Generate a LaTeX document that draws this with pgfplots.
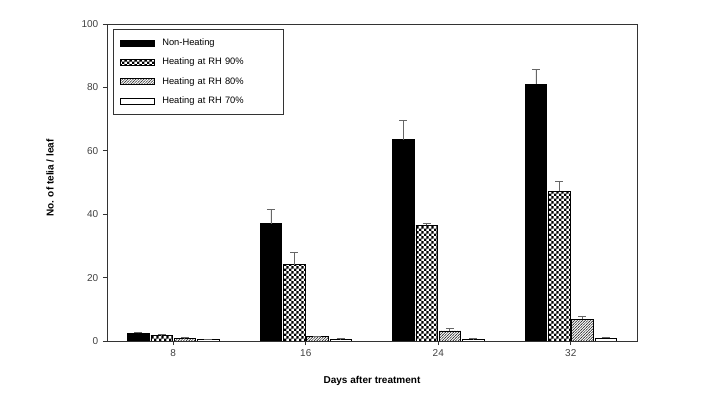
\documentclass[border=0pt]{standalone}
\usepackage{fontspec}
\setmainfont{Liberation Sans}
\usepackage{pgfplots}
\pgfplotsset{compat=1.18}
\usetikzlibrary{patterns}
\pgfdeclarepatternformonly{smallchecker}{\pgfqpoint{0pt}{0pt}}{\pgfqpoint{4pt}{4pt}}{\pgfqpoint{4pt}{4pt}}{%
  \pgfpathrectangle{\pgfqpoint{0pt}{0pt}}{\pgfqpoint{2pt}{2pt}}%
  \pgfpathrectangle{\pgfqpoint{2pt}{2pt}}{\pgfqpoint{2pt}{2pt}}%
  \pgfusepath{fill}}
\pgfdeclarepatternformonly{finehatch}{\pgfqpoint{-0.5pt}{-0.5pt}}{\pgfqpoint{2.5pt}{2.5pt}}{\pgfqpoint{2pt}{2pt}}{%
  \pgfsetlinewidth{0.35pt}%
  \pgfpathmoveto{\pgfqpoint{-0.5pt}{-0.5pt}}%
  \pgfpathlineto{\pgfqpoint{2.5pt}{2.5pt}}%
  \pgfusepath{stroke}}
\begin{document}
\begin{tikzpicture}
\useasboundingbox (0,0) rectangle (528.75pt,299.25pt);
\begin{axis}[
  at={(80.25pt,43.5pt)}, anchor=south west,
  scale only axis, width=397.5pt, height=237.75pt,
  xmin=4, xmax=36, ymin=0, ymax=100,
  xtick={8,16,24,32}, ytick={0,20,40,60,80,100},
  tick align=outside, tick pos=left,
  major tick length=3pt,
  axis line style={black!80, line width=0.6pt},
  tick style={black!80, line width=0.6pt},
  /pgf/number format/assume math mode=true,
  tick label style={font=\fontsize{7.5}{9}\selectfont, text=black!75},
  xlabel={\textbf{Days after treatment}},
  ylabel={\textbf{No. of telia / leaf}},
  label style={font=\fontsize{7.5}{9}\selectfont},
  xlabel style={at={(axis description cs:0.5,-0.126)}, anchor=center},
  ylabel style={at={(axis description cs:-0.1075,0.514)}, anchor=center},
  ybar, bar width=1.3,
  error bars/y dir=plus, error bars/y explicit,
  error bars/error bar style={black!60, line width=0.6pt},
  error bars/error mark options={rotate=90, mark size=3pt, black!60, line width=0.6pt},
  legend style={at={(0.011,0.984)}, anchor=north west, draw=black!80, line width=0.4pt,
    font=\fontsize{7}{8}\selectfont, row sep=3.9pt, inner xsep=5pt, inner ysep=5pt,
    cells={anchor=west}, text width=84pt},
  legend image code/.code={\draw[#1, line width=0.4pt] (0pt,-2.25pt) rectangle (25.5pt,2.25pt); \path (29.5pt,0pt);},
]
\addplot[bar shift=-2.1, fill=black, draw=black, line width=0.4pt] coordinates {
  (8,2.4) +- (0,0.3) (16,37) +- (0,4.6) (24,63.5) +- (0,6.2) (32,81) +- (0,4.8)};
\addplot[bar shift=-0.7, draw=black, line width=0.4pt, pattern=smallchecker] coordinates {
  (8,1.8) +- (0,0.2) (16,24.1) +- (0,3.8) (24,36.5) +- (0,0.6) (32,47.3) +- (0,3.0)};
\addplot[bar shift=0.7, draw=black, line width=0.4pt, pattern=finehatch, pattern color=black!80] coordinates {
  (8,0.9) +- (0,0.2) (16,1.4) +- (0,0.2) (24,3.2) +- (0,0.9) (32,6.8) +- (0,1.0)};
\addplot[bar shift=2.1, fill=white, draw=black, line width=0.4pt] coordinates {
  (8,0.5) +- (0,0.1) (16,0.6) +- (0,0.1) (24,0.6) +- (0,0.1) (32,0.9) +- (0,0.3)};
\legend{Non-Heating, Heating at RH 90\%, Heating at RH 80\%, Heating at RH 70\%}
\end{axis}
\end{tikzpicture}
\end{document}
